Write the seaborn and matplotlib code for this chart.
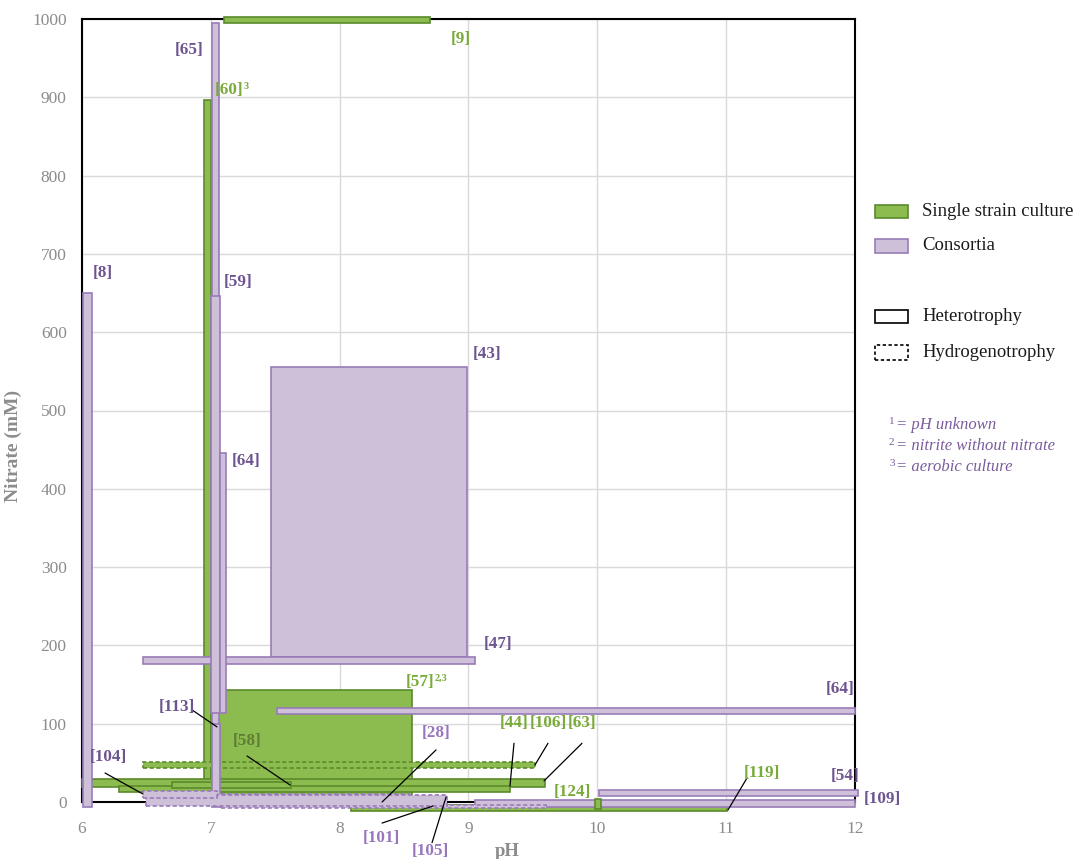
import numpy as np
import pandas as pd
import matplotlib
matplotlib.use("Agg")
import matplotlib.pyplot as plt
from matplotlib.patches import Rectangle
import seaborn as sns

# ---------------- data ----------------
refs       = ["[9]", "[60]", "[57]", "[119]", "[106]", "[63]", "[44]", "[58]",
              "[43]", "[47]", "[65]", "[59]", "[64]v", "[8]", "[113]", "[64]h",
              "[54]", "[109]", "[101]", "[28]", "[105]", "[104]", "[124]"]
culture    = ["single", "single", "single", "single", "single", "single", "single", "single",
              "consortia", "consortia", "consortia", "consortia", "consortia", "consortia",
              "consortia", "consortia", "consortia", "consortia", "consortia", "consortia",
              "consortia", "consortia", "single"]
metabolism = ["hetero", "hetero", "hetero", "hetero", "hydro", "hetero", "hetero", "hetero",
              "hetero", "hetero", "hetero", "hetero", "hetero", "hetero", "hetero", "hetero",
              "hetero", "hetero", "hydro", "hydro", "hydro", "hydro", "hetero"]
ph_low     = [7.10, 6.95, 7.00, 8.09, 6.47, 6.00, 6.29, 6.70,
              7.47, 6.47, 7.01, 7.00, 7.07, 6.01, 7.01, 7.51,
              10.01, 9.05, 7.08, 6.53, 6.50, 6.47, 9.98]
ph_high    = [8.70, 7.00, 8.56, 11.01, 9.52, 9.59, 9.32, 7.62,
              8.99, 9.05, 7.06, 7.07, 7.12, 6.08, 7.07, 12.00,
              12.02, 12.00, 9.60, 8.54, 8.83, 7.05, 10.03]
no3_low    = [995, 0, -4, -12, 43, 19, 13, 18,
              185, 176, 0, 114, 114, -6, -6, 112,
              8, -7, -8, -3, -5, 5, -9]
no3_high   = [1003, 896, 143, -4, 51, 29, 21, 25,
              555, 185, 995, 646, 446, 650, 99, 120,
              15, 2.5, -4, 10, 9, 14, 4]

label_text  = ["[9]", "[65]", "[60]", "[8]", "[59]", "[43]", "[64]", "[47]", "[57]",
               "[64]", "[113]", "[28]", "[44]", "[106]", "[63]", "[58]", "[104]",
               "[101]", "[105]", "[124]", "[119]", "[54]", "[109]"]
label_sup   = ["", "", "3", "", "", "", "", "", "2,3",
               "", "", "", "", "", "", "", "", "", "", "", "", "", ""]
label_tone  = ["g", "p", "g", "p", "p", "p", "p", "p", "g",
               "p", "p", "m", "g", "g", "g", "dg", "p",
               "m", "m", "g", "g", "p", "p"]
label_ph    = [8.94, 6.83, 7.14, 6.163, 7.211, 9.144, 7.273, 9.229, 8.624,
               11.884, 6.737, 8.748, 9.353, 9.617, 9.881, 7.281, 6.202,
               8.321, 8.701, 9.803, 11.278, 11.922, 12.21]
label_no3   = [974, 960, 909, 675, 664, 572, 435, 202, 153,
               144.5, 121.5, 88, 101, 101, 101, 78, 57.5,
               -46, -62, 12.8, 37, 33, 4]

# leader lines: (pH start, nitrate start, pH end, nitrate end)
lead_ph0  = [6.854, 8.748, 9.353, 9.617, 9.881, 7.281, 6.179, 8.329, 8.717, 11.162]
lead_no30 = [117.6, 66.5, 75, 75, 75, 58.8, 37, -26.9, -52, 30.7]
lead_ph1  = [7.048, 8.329, 9.322, 9.516, 9.586, 7.615, 6.473, 8.724, 8.826, 11.014]
lead_no31 = [95.9, 0, 20.5, 47.3, 26.9, 21.7, 10.2, -5.1, 6.4, -10.2]

x_ticks = [6, 7, 8, 9, 10, 11, 12]
y_ticks = [0, 100, 200, 300, 400, 500, 600, 700, 800, 900, 1000]

bars = pd.DataFrame({"ref": refs, "culture": culture, "metabolism": metabolism,
                     "ph_low": ph_low, "ph_high": ph_high,
                     "no3_low": no3_low, "no3_high": no3_high})

# ---------------- style ----------------
sns.set_theme(style="whitegrid")
plt.rcParams["font.family"] = ["Liberation Serif", "DejaVu Serif"]

GREEN_FILL, GREEN_EDGE = "#8cbb4f", "#5b8a2c"
PURP_FILL, PURP_EDGE = "#cfc0da", "#9a7bb9"
tone_col = {"g": "#7aab3a", "dg": "#5f7d34", "p": "#6e5490", "m": "#9776bd"}
GRAY = "#8c8c8c"

W, H = 1090, 859
fig = plt.figure(figsize=(W / 100, H / 100), dpi=100)
fig.patch.set_facecolor("white")
ax = fig.add_axes([82 / W, 1 - 802 / H, (855 - 82) / W, (802 - 19) / H])
ax.set_facecolor("white")

for i, r in bars.iterrows():
    single = r["culture"] == "single"
    ax.bar(r["ph_low"], r["no3_high"] - r["no3_low"], width=r["ph_high"] - r["ph_low"],
           bottom=r["no3_low"], align="edge",
           color=GREEN_FILL if single else PURP_FILL,
           edgecolor=GREEN_EDGE if single else PURP_EDGE,
           linewidth=1.2,
           linestyle=(0, (2.5, 1.5)) if r["metabolism"] == "hydro" else "-",
           clip_on=False, zorder=3 + i * 0.01)

ax.set_xlim(6, 12)
ax.set_ylim(0, 1000)
ax.set_xticks(x_ticks)
ax.set_yticks(y_ticks)
ax.grid(True, color="#d9d9d9", linewidth=1.0)
ax.set_axisbelow(True)
for s in ax.spines.values():
    s.set_visible(True)
    s.set_color("black")
    s.set_linewidth(1.5)
    s.set_zorder(2.5)
ax.tick_params(axis="both", length=0, colors=GRAY, labelsize=12.5)
ax.tick_params(axis="x", pad=14)
ax.tick_params(axis="y", pad=11)

ax.set_xlabel("pH", color=GRAY, fontsize=13.5, fontweight="bold")
ax.set_ylabel("Nitrate (mM)", color=GRAY, fontsize=14, fontweight="bold")
ax.xaxis.set_label_coords((507 - 82) / 773, (802 - 843) / 783)
ax.yaxis.set_label_coords((22 - 82) / 773, (802 - 446) / 783)

# leader lines
for a, b, c, d in zip(lead_ph0, lead_no30, lead_ph1, lead_no31):
    ax.plot([a, c], [b, d], color="black", linewidth=0.9, clip_on=False, zorder=10)

# reference labels
for t, s, tone, px, py in zip(label_text, label_sup, label_tone, label_ph, label_no3):
    txt = ax.text(px, py, t, color=tone_col[tone], fontsize=12.3, fontweight="bold",
                  ha="center", va="center", clip_on=False, zorder=11)
    if s:
        ax.annotate(s, xy=(1.0, 1.0), xycoords=txt, xytext=(0.5, 0),
                    textcoords="offset points", ha="left", va="top",
                    color=tone_col[tone], fontsize=7.5, fontweight="bold", zorder=11)

# ---------------- legend (drawn in figure pixels) ----------------
def fx(px):
    return px / W

def fy(py):
    return 1 - py / H

legend_items = [
    (205, 218, GREEN_FILL, GREEN_EDGE, "-", "Single strain culture"),
    (239, 253, PURP_FILL, PURP_EDGE, "-", "Consortia"),
    (310, 323, "white", "black", "-", "Heterotrophy"),
    (345, 360, "white", "black", (0, (2, 1.5)), "Hydrogenotrophy"),
]
for top, bot, fc, ec, ls, lab in legend_items:
    fig.add_artist(Rectangle((fx(875), fy(bot)), fx(908) - fx(875), fy(top) - fy(bot),
                             transform=fig.transFigure, facecolor=fc, edgecolor=ec,
                             linewidth=1.2, linestyle=ls))
    fig.text(fx(922), fy((top + bot) / 2), lab, fontsize=13.5, color="#1a1a1a",
             ha="left", va="center")

FOOT = "#7a5c9c"
notes = [("1", "= pH unknown", 425), ("2", "= nitrite without nitrate", 446),
         ("3", "= aerobic culture", 467)]
for sup, body, py in notes:
    fig.text(fx(889), fy(py - 4), sup, fontsize=8, color=FOOT, ha="left", va="center")
    fig.text(fx(896), fy(py), body, fontsize=12, color=FOOT, style="italic",
             ha="left", va="center")

fig.savefig("out.png", dpi=100)
